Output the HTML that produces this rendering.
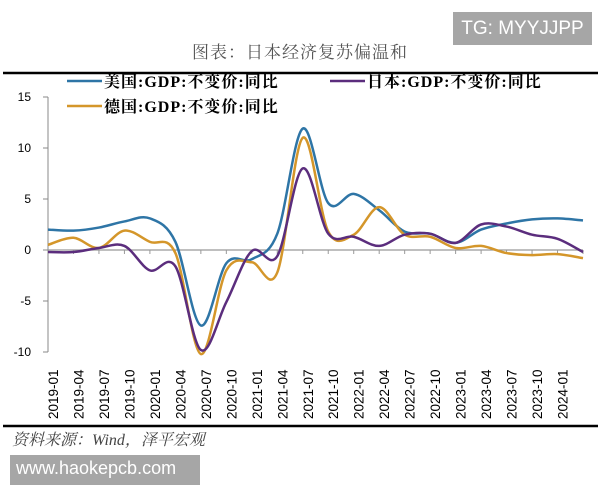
<!DOCTYPE html>
<html><head><meta charset="utf-8"><style>
body{margin:0;width:600px;height:480px;background:#fff;overflow:hidden;position:relative;font-family:"Liberation Sans","Noto Sans CJK SC",sans-serif}
.abs{position:absolute}
</style></head><body>
<div class="abs" style="left:453px;top:12px;width:139px;height:33px;background:#a6a6a6;color:#fff;font-size:19px;line-height:33px;text-align:center">TG: MYYJJPP</div>
<div class="abs" style="left:0;width:600px;top:38px;text-align:center;font-size:17px;color:#555;font-family:'Liberation Serif','Noto Serif CJK SC',serif;letter-spacing:1px">图表：日本经济复苏偏温和</div>
<svg class="abs" style="left:0;top:0" width="600" height="480" id="chart">
<line x1="3" y1="73" x2="598" y2="73" stroke="#000" stroke-width="2.5"/>
<line x1="3" y1="426" x2="598" y2="426" stroke="#000" stroke-width="2.5"/>
<g id="axes"></g><g id="series"></g>
<g font-family="'Liberation Serif','Noto Serif CJK SC',serif" font-weight="bold" font-size="16" letter-spacing="1">
<line x1="67" y1="81" x2="102" y2="81" stroke="#2e75a6" stroke-width="2.5"/>
<text x="104" y="87">美国:GDP:不变价:同比</text>
<line x1="330" y1="81" x2="365" y2="81" stroke="#5b2d7d" stroke-width="2.5"/>
<text x="367" y="87">日本:GDP:不变价:同比</text>
<line x1="67" y1="106" x2="102" y2="106" stroke="#d4962a" stroke-width="2.5"/>
<text x="104" y="112">德国:GDP:不变价:同比</text>
</g>
</svg>
<div class="abs" style="left:12px;top:427px;font-size:16px;color:#444;font-style:italic;font-family:'Liberation Serif','Noto Serif CJK SC',serif">资料来源：Wind，泽平宏观</div>
<div class="abs" style="left:10px;top:455px;width:190px;height:30px;background:#a6a6a6;color:#fff;font-size:18px;line-height:26px;padding-left:6px;box-sizing:border-box">www.haokepcb.com</div>
<script>
const xLabels=["2019-01","2019-04","2019-07","2019-10","2020-01","2020-04","2020-07","2020-10","2021-01","2021-04","2021-07","2021-10","2022-01","2022-04","2022-07","2022-10","2023-01","2023-04","2023-07","2023-10","2024-01"];
const yTicks=[15,10,5,0,-5,-10];
const usValues=[2.0,1.9,2.2,2.8,3.1,0.8,-7.4,-1.3,-0.9,1.6,11.9,4.6,5.5,3.9,1.8,1.6,0.7,2.0,2.6,3.0,3.1,2.9];
const japanValues=[-0.2,-0.2,0.2,0.4,-2.0,-1.6,-9.8,-5.1,-0.1,-0.6,8.0,1.6,1.3,0.4,1.5,1.6,0.7,2.5,2.3,1.5,1.1,-0.2];
const germanyValues=[0.5,1.2,0.2,1.9,0.8,-0.3,-10.2,-2.0,-1.2,-2.2,11.0,1.8,1.5,4.2,1.5,1.3,0.2,0.4,-0.3,-0.5,-0.4,-0.8];
const NS="http://www.w3.org/2000/svg";
const x0=48,x1=583,nPts=usValues.length;
function xScale(i){return x0+(x1-x0)*i/(nPts-1);}
function yScale(v){return 250-10.2*v;}
const axes=document.getElementById('axes'),series=document.getElementById('series');
function mk(tag,attrs,parent){const e=document.createElementNS(NS,tag);for(const k in attrs)e.setAttribute(k,attrs[k]);parent.appendChild(e);return e;}
let e=mk('line',{x1:x0,y1:yScale(15),x2:x0,y2:yScale(-10),stroke:'#888','stroke-width':1},axes);


yTicks.forEach(t=>{
 let l=mk('line',{x1:x0-5,y1:yScale(t),x2:x0,y2:yScale(t),stroke:'#888'},axes);
 
 
 let tx=mk('text',{x:31,y:yScale(t)+4,'text-anchor':'end','font-size':12,fill:'#000'},axes);
 tx.textContent=t;
 
 
});
e=mk('line',{x1:x0,y1:yScale(0),x2:x1,y2:yScale(0),stroke:'#999','stroke-width':1.2},axes);


for(let i=1;i<nPts;i++){
 let l=mk('line',{x1:xScale(i),y1:yScale(0),x2:xScale(i),y2:yScale(0)+4,stroke:'#999'},axes);
 
 
}
xLabels.forEach((s,i)=>{
 const x=xScale(i)+10,y=419;
 let tx=mk('text',{x:x,y:y,transform:`rotate(-90 ${x} ${y})`,'font-size':13.5,fill:'#000'},axes);
 tx.textContent=s;
 
 
});
function path(vals){
 const p=vals.map((v,i)=>[xScale(i),yScale(v)]);
 let d=`M${p[0][0]},${p[0][1]}`;
 for(let i=0;i<p.length-1;i++){
  const a=p[Math.max(0,i-1)],b=p[i],c=p[i+1],dd=p[Math.min(p.length-1,i+2)];
  const c1=[b[0]+(c[0]-a[0])/6,b[1]+(c[1]-a[1])/6],c2=[c[0]-(dd[0]-b[0])/6,c[1]-(dd[1]-b[1])/6];
  d+=` C${c1[0]},${c1[1]} ${c2[0]},${c2[1]} ${c[0]},${c[1]}`;
 }
 return d;
}
[[usValues,'#2e75a6','line-us'],[germanyValues,'#d4962a','line-germany'],[japanValues,'#5b2d7d','line-japan']].forEach(([v,c,n])=>{
 let pth=mk('path',{d:path(v),fill:'none',stroke:c,'stroke-width':2.5},series);
 
 
});
</script>
</body></html>
